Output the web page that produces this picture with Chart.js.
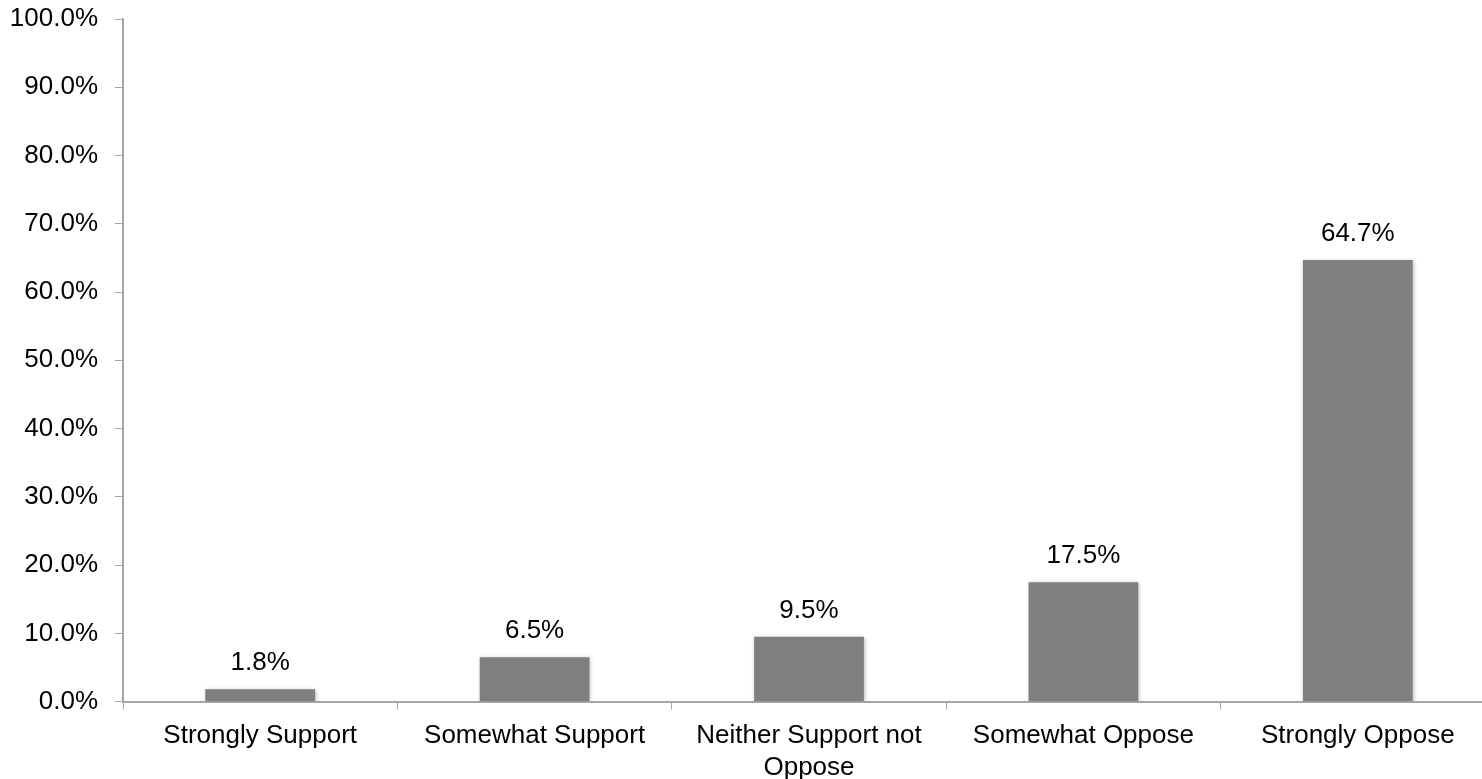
<!DOCTYPE html>
<html>
<head>
<meta charset="utf-8">
<script src="https://cdn.jsdelivr.net/npm/chart.js@4/dist/chart.umd.min.js"></script>
<style>
  html, body { margin: 0; padding: 0; background: #fff; overflow: hidden; }
  #wrap { position: relative; width: 1495px; height: 784px; }
</style>
</head>
<body>
<div id="wrap"><canvas id="c"></canvas></div>
<script>
const categories = [
  "Strongly Support",
  "Somewhat Support",
  ["Neither Support not", "Oppose"],
  "Somewhat Oppose",
  "Strongly Oppose"
];
const values = [1.8, 6.5, 9.5, 17.5, 64.7];
const yTicks = [0, 10, 20, 30, 40, 50, 60, 70, 80, 90, 100];

const FONT = "'Liberation Sans', Arial, Helvetica, sans-serif";

const shadowPlugin = {
  id: 'barShadow',
  beforeDatasetsDraw(chart) {
    const ctx = chart.ctx;
    ctx.save();
    ctx.shadowColor = 'rgba(0,0,0,0.28)';
    ctx.shadowBlur = 4;
    ctx.shadowOffsetX = 1;
    ctx.shadowOffsetY = 1;
  },
  afterDatasetsDraw(chart) {
    chart.ctx.restore();
  }
};

const labelPlugin = {
  id: 'valueLabels',
  afterDraw(chart) {
    const ctx = chart.ctx;
    const meta = chart.getDatasetMeta(0);
    ctx.save();
    ctx.font = '26px ' + FONT;
    ctx.fillStyle = '#000';
    ctx.textAlign = 'center';
    ctx.textBaseline = 'alphabetic';
    meta.data.forEach((bar, i) => {
      ctx.fillText(values[i].toFixed(1) + '%', bar.x, bar.y - 19);
    });
    ctx.restore();
  }
};

new Chart(document.getElementById('c'), {
  type: 'bar',
  data: {
    labels: categories,
    datasets: [{
      data: values,
      backgroundColor: '#7f7f7f',
      borderWidth: 0,
      barPercentage: 0.4,
      categoryPercentage: 1.0
    }]
  },
  options: {
    responsive: true,
    maintainAspectRatio: false,
    animation: false,
    layout: { padding: { top: 19, left: 0, right: 0, bottom: 0 } },
    plugins: { legend: { display: false }, tooltip: { enabled: false } },
    scales: {
      x: {
        afterFit(axis) { axis.height = axis.height - 10; },
        grid: {
          display: true,
          drawOnChartArea: false,
          drawTicks: true,
          tickLength: 8,
          color: '#a6a6a6',
          offset: true
        },
        border: { display: true, color: '#a6a6a6', width: 2 },
        ticks: {
          font: { size: 26, family: FONT, lineHeight: 1.2 },
          color: '#000',
          padding: 11,
          maxRotation: 0,
          autoSkip: false
        }
      },
      y: {
        min: 0,
        max: 100,
        afterBuildTicks(axis) { axis.ticks = yTicks.map(v => ({ value: v })); },
        afterFit(axis) { axis.width = 123; axis.paddingTop = 0; axis.paddingBottom = 0; },
        grid: {
          display: true,
          drawOnChartArea: false,
          drawTicks: true,
          tickLength: 8,
          color: '#a6a6a6'
        },
        border: { display: true, color: '#a6a6a6', width: 2 },
        ticks: {
          font: { size: 26, family: FONT },
          color: '#000',
          padding: 17,
          callback: v => v.toFixed(1) + '%'
        }
      }
    }
  },
  plugins: [shadowPlugin, labelPlugin]
});
</script>
</body>
</html>
